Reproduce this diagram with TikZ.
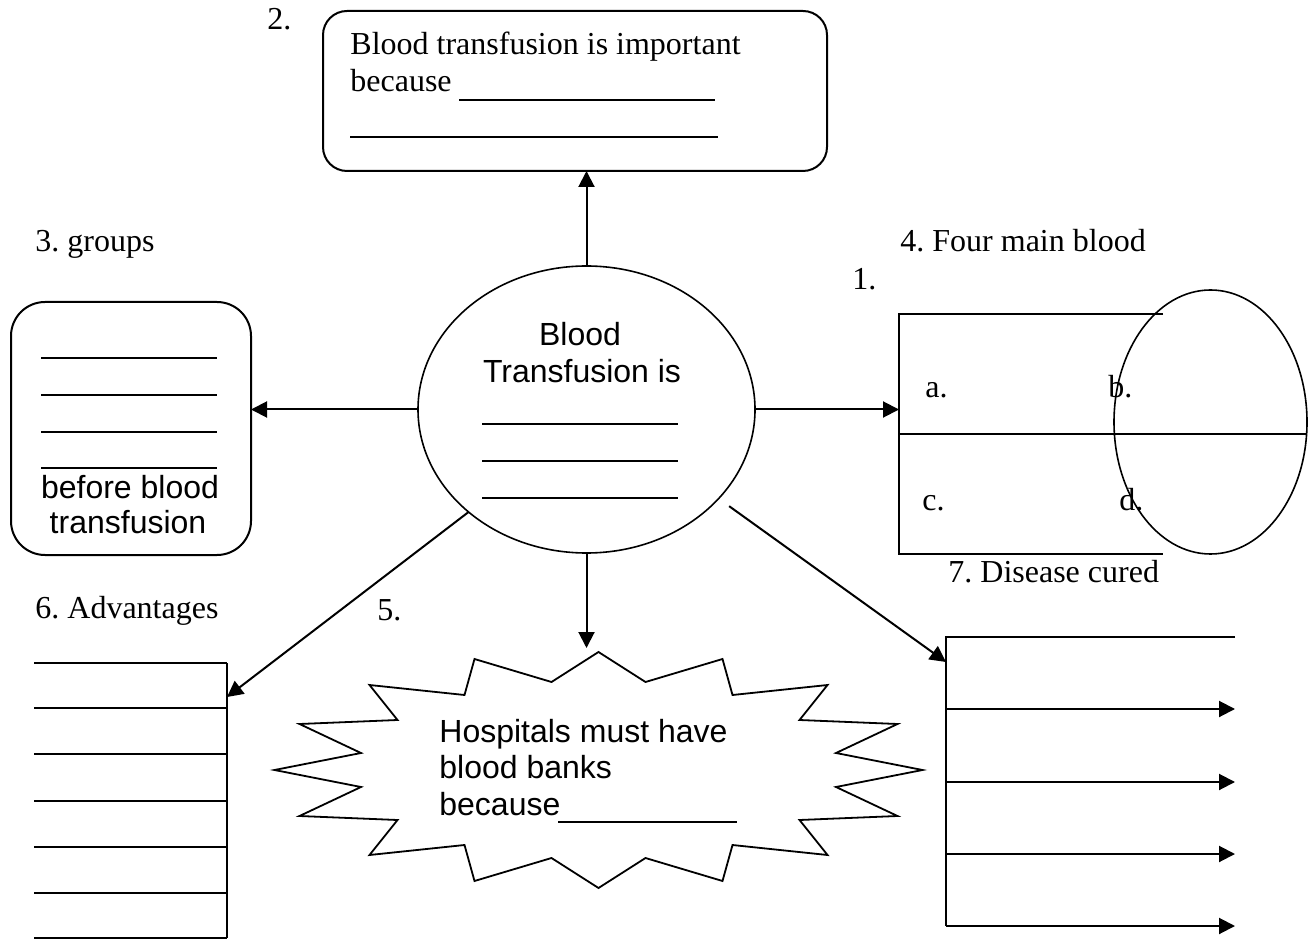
\documentclass[tikz,border=0pt]{standalone}
\usepackage{fontspec}
\setmainfont{Liberation Serif}
\newfontfamily\arialfam{Liberation Sans}
\usetikzlibrary{shapes.geometric, arrows.meta, calc}
\newcommand\serifsz{\fontsize{16pt}{18.5pt}\selectfont}
\newcommand\sanssz{\arialfam\fontsize{16pt}{18.5pt}\selectfont}
\frenchspacing

\begin{document}
\begin{tikzpicture}[x=0.5pt, y=-0.5pt,
  rule/.style={line width=1pt},
  blank/.style={line width=1.2pt},
  arr/.style={line width=1pt, -{Triangle[length=8pt,width=8pt]}},
  serif/.style={anchor=base west, inner sep=0pt, font=\serifsz},
  sans/.style={anchor=base west, inner sep=0pt, font=\sanssz},
  card/.style={draw, line width=1pt, inner sep=0pt, outer sep=0pt}]
\useasboundingbox (0,0) rectangle (1316,940);

% central idea
\node[card, ellipse, line width=0.8pt, minimum width=168.5pt, minimum height=143.5pt] (bt) at (586.5,409.5) {};
\node[sans, anchor=base] (btA) at (580,346) {Blood};
\node[sans, anchor=base] (btB) at (582,383) {Transfusion is};
\foreach \y in {424,461,498} \draw[blank] (482,\y) -- (678,\y);

% 2. why transfusion matters
\node[card, rounded corners=12pt, minimum width=252pt, minimum height=80pt] (imp) at (575,91) {};
\node[serif] (impA) at (350,55) {Blood transfusion is important};
\node[serif] (impB) at (350,92) {because};
\draw[rule] (459,100) -- (715,100);
\draw[rule] (350,137) -- (718,137);
\node[serif] (n2) at (267,30) {2.};

% 3. checks before transfusion
\node[card, rounded corners=17pt, minimum width=120pt, minimum height=126.5pt] (grp) at (131,428.5) {};
\foreach \y in {358,395,432,468} \draw[rule] (41,\y) -- (217,\y);
\node[sans, anchor=base] (grpA) at (130,499) {before blood};
\node[sans, anchor=base] (grpB) at (128,533) {transfusion};
\node[serif] (n3) at (35,252) {3. groups};

% 4. blood groups table
\node[serif] (n4) at (900,252) {4. Four main blood};
\node[serif] (n1) at (852,290) {1.};
\node[inner sep=0pt, outer sep=0pt, minimum width=132pt, minimum height=120pt] (bg) at (1031,434) {};
\draw[rule] (bg.north east) -- (bg.north west) -- (bg.south west) -- (bg.south east);
\node[draw, ellipse, line width=0.8pt, inner sep=0pt, outer sep=0pt, minimum width=96.5pt, minimum height=132pt] (bgc) at (1210.5,422) {};
\draw[rule] (bg.west) -- (bg.west -| bgc.east);
\node[serif] (ga) at (925,398) {a.};
\node[serif] (gb) at (1108,398) {b.};
\node[serif] (gc) at (922,510) {c.};
\node[serif] (gd) at (1119,510) {d.};
\node[serif] (n7) at (948,582) {7. Disease cured};

% 6. advantages list
\node[serif] (n6) at (35,618) {6. Advantages};
\node[serif] (n5) at (377,620) {5.};
\foreach \y in {663,708,754,801,847,893,938} \draw[rule] (34,\y) -- (227,\y);
\draw[rule] (227,663) -- (227,938);
\coordinate (advin) at (227,697);

% diseases list
\draw[rule] (1235,637) -- (946,637) -- (946,926);
\foreach \y in {709,782,854,926} \draw[arr] (946,\y) -- (1235,\y);
\coordinate (dcin) at (946,662);

% starburst: blood banks
\draw[line width=0.9pt, shift={(598.5,770)}]
  (0,-118) -- (47,-88) -- (124,-111) -- (134,-75) -- (229,-85) -- (201,-50)
  -- (299,-46) -- (237.5,-17) -- (324,0) -- (237.5,17) -- (299,46) -- (201,50)
  -- (229,85) -- (134,75) -- (124,111) -- (47,88) -- (0,118) -- (-47,88)
  -- (-124,111) -- (-134,75) -- (-229,85) -- (-201,50) -- (-299,46)
  -- (-237.5,17) -- (-324,0) -- (-237.5,-17) -- (-299,-46) -- (-201,-50)
  -- (-229,-85) -- (-134,-75) -- (-124,-111) -- (-47,-88) -- cycle;
\coordinate (starin) at (587,648);
\node[sans] (hbA) at (439,742) {Hospitals must have};
\node[sans] (hbB) at (439,778) {blood banks};
\node[sans] (hbC) at (439,815) {because};
\draw[blank] (558,822) -- (737,822);

% connectors
\draw[arr] (bt.north) -- (bt.north |- imp.south);
\draw[arr] (bt.west) -- (bt.west -| grp.east);
\draw[arr] (bt.east) -- (bt.east -| bg.west);
\draw[arr] (bt.south) -- (bt.south |- starin);
\draw[arr] (bt.221) -- (advin);
\draw[arr, shorten <=6.5pt] (bt.-34) -- (dcin);
\end{tikzpicture}
\end{document}
